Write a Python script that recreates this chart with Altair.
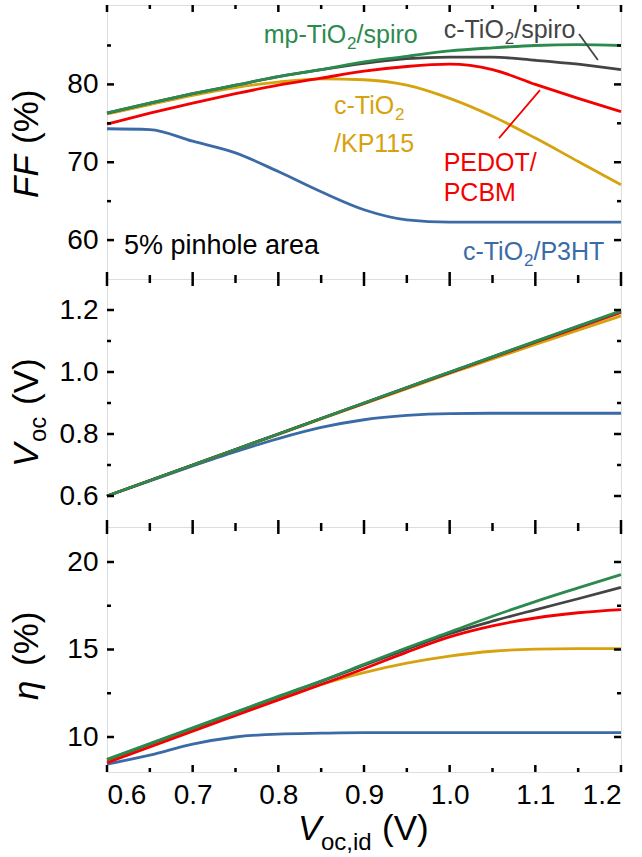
import altair as alt
import pandas as pd

# ---------------- data ----------------
x_vals = [0.60, 0.65, 0.70, 0.75, 0.80, 0.85, 0.90, 0.95, 1.00, 1.05, 1.10, 1.15, 1.20]

series_names = ["c-TiO2/P3HT", "c-TiO2/KP115", "PEDOT/PCBM", "c-TiO2/spiro", "mp-TiO2/spiro"]
series_colors = ["#3b6ba6", "#d6a20e", "#f50000", "#444444", "#2b8a4e"]

# FF (%)
ff_p3ht = [74.3, 74.2, 72.7, 71.2, 68.8, 66.2, 63.9, 62.6, 62.3, 62.3, 62.3, 62.3, 62.3]
ff_kp115 = [76.2, 77.4, 78.6, 79.6, 80.3, 80.7, 80.6, 79.9, 78.2, 75.9, 73.1, 70.1, 67.1]
ff_pedot = [74.9, 76.3, 77.6, 78.8, 79.9, 80.8, 81.7, 82.3, 82.6, 81.9, 80.0, 78.2, 76.5]
ff_cspiro = [76.3, 77.6, 78.8, 79.9, 81.0, 81.9, 82.7, 83.3, 83.5, 83.5, 83.1, 82.6, 81.9]
ff_mpspiro = [76.35, 77.6, 78.8, 79.9, 81.0, 81.9, 82.9, 83.6, 84.3, 84.7, 85.0, 85.1, 85.0]

# Voc (V)
voc_p3ht = [0.600, 0.649, 0.697, 0.743, 0.785, 0.821, 0.846, 0.860, 0.866, 0.867, 0.867, 0.867, 0.867]
voc_kp115 = [0.600, 0.650, 0.700, 0.750, 0.799, 0.849, 0.898, 0.946, 0.995, 1.042, 1.089, 1.135, 1.181]
voc_pedot = [0.600, 0.650, 0.700, 0.750, 0.800, 0.850, 0.899, 0.949, 0.998, 1.047, 1.096, 1.144, 1.192]
voc_cspiro = [0.600, 0.650, 0.700, 0.750, 0.800, 0.850, 0.900, 0.950, 0.999, 1.049, 1.098, 1.147, 1.196]
voc_mpspiro = [0.600, 0.650, 0.700, 0.750, 0.800, 0.850, 0.900, 0.950, 1.000, 1.049, 1.099, 1.148, 1.197]

# eta (%)
eta_p3ht = [8.45, 8.96, 9.59, 10.0, 10.17, 10.22, 10.25, 10.25, 10.25, 10.25, 10.25, 10.25, 10.25]
eta_kp115 = [8.6, 9.5, 10.4, 11.3, 12.15, 13.0, 13.68, 14.22, 14.62, 14.9, 15.02, 15.05, 15.05]
eta_pedot = [8.53, 9.43, 10.33, 11.23, 12.12, 13.0, 13.9, 14.85, 15.72, 16.35, 16.8, 17.1, 17.28]
eta_cspiro = [8.7, 9.6, 10.5, 11.4, 12.3, 13.18, 14.1, 15.02, 15.9, 16.62, 17.27, 17.9, 18.55]
eta_mpspiro = [8.72, 9.62, 10.52, 11.42, 12.32, 13.2, 14.15, 15.1, 16.0, 16.9, 17.74, 18.52, 19.28]

x_major = [0.6, 0.7, 0.8, 0.9, 1.0, 1.1, 1.2]
x_minor = [0.65, 0.75, 0.85, 0.95, 1.05, 1.15]
ff_major = [60, 70, 80]
ff_minor = [65, 75, 85]
voc_major = [0.6, 0.8, 1.0, 1.2]
voc_minor = [0.7, 0.9, 1.1]
eta_major = [10, 15, 20]
eta_minor = [12.5, 17.5]

# annotations (panel FF): text split as main part / subscript / rest; anchor in data units
ann_pre = ["mp-TiO", "c-TiO", "c-TiO", "/KP115", "PEDOT/", "PCBM", "c-TiO", "5% pinhole area"]
ann_sub = ["2", "2", "2", "", "", "", "2", ""]
ann_post = ["/spiro", "/spiro", "", "", "", "", "/P3HT", ""]
ann_x = [0.783, 0.993, 0.865, 0.865, 0.993, 0.993, 1.0155, 0.6198]
ann_y = [85.38, 85.96, 76.18, 71.29, 68.84, 64.98, 57.39, 58.16]
ann_color = ["#2b8a4e", "#444444", "#d6a20e", "#d6a20e", "#f50000", "#f50000", "#3b6ba6", "#000000"]
ann_size = [25, 25, 25, 25, 25, 25, 25, 27]

lead_x = [1.151, 1.0576]
lead_y = [86.47, 73.09]
lead_x2 = [1.173, 1.1054]
lead_y2 = [83.13, 79.27]
lead_color = ["#444444", "#f50000"]

# ---------------- chart ----------------
W = 514
FONT = "Liberation Sans"
TICK_W = 2.5
MAJ = 7
MIN = 4
LBL = 28
ANN_SIZE = 25
SUB_SIZE = 17
SUB_SHIFT = 6

# Arial / Liberation Sans advance widths (1/1000 em) for the characters used
ADV = {"c": 500, "-": 333, "T": 611, "i": 222, "O": 778, "m": 833, "p": 556, "2": 556}


def text_width(s, size):
    return sum(ADV.get(ch, 556) for ch in s) * size / 1000.0


def make_panel(vals, ydom, ymajor, yminor, H, yfmt, title_pieces, show_x, extra=None):
    xs = alt.Scale(domain=[0.6, 1.2], nice=False, zero=False)
    ys = alt.Scale(domain=ydom, nice=False, zero=False)
    if show_x:
        xaxis = alt.Axis(values=x_major, format=".1f", ticks=False, domain=False, grid=False,
                         labelFontSize=LBL, labelPadding=9, title=None, labelColor="black",
                         labelFont=FONT)
    else:
        xaxis = None
    yaxis = alt.Axis(values=ymajor, format=yfmt, ticks=False, domain=False, grid=False,
                     labelFontSize=LBL, labelPadding=9, title=None, labelColor="black",
                     labelFont=FONT)

    def X(field):
        return alt.X(field, scale=xs, axis=xaxis)

    def Y(field):
        return alt.Y(field, scale=ys, axis=yaxis)

    layers = []
    for name, color, v in zip(series_names, series_colors, vals):
        df = pd.DataFrame({"x": x_vals, "y": v, "s": name})
        layers.append(
            alt.Chart(df).mark_line(color=color, strokeWidth=2.8, interpolate="monotone").encode(
                x=X("x:Q"), y=Y("y:Q")
            )
        )
    # ticks (inside, all four sides)
    for tv, ln in ((ymajor, MAJ), (yminor, MIN)):
        d = pd.DataFrame({"y": tv})
        b = alt.Chart(d).mark_rule(color="black", strokeWidth=TICK_W)
        layers.append(b.encode(y=Y("y:Q"), x=alt.value(0), x2=alt.value(ln)))
        layers.append(b.encode(y=Y("y:Q"), x=alt.value(W - ln), x2=alt.value(W)))
    for tv, ln in ((x_major, MAJ), (x_minor, MIN)):
        d = pd.DataFrame({"x": tv})
        b = alt.Chart(d).mark_rule(color="black", strokeWidth=TICK_W)
        layers.append(b.encode(x=X("x:Q"), y=alt.value(0), y2=alt.value(ln)))
        layers.append(b.encode(x=X("x:Q"), y=alt.value(H - ln), y2=alt.value(H)))
    # axis title pieces
    for (txt, px, py, size, italic, angle) in title_pieces:
        d = pd.DataFrame({"t": [txt]})
        kw = dict(align="left", baseline="alphabetic", fontSize=size, font=FONT, color="black")
        if italic:
            kw["fontStyle"] = "italic"
        if angle:
            kw["angle"] = angle
        layers.append(alt.Chart(d).mark_text(**kw).encode(x=alt.value(px), y=alt.value(py), text="t:N"))
    if extra:
        layers.extend(extra(X, Y))
    return alt.layer(*layers).properties(width=W, height=H)


def ff_extra(X, Y):
    out = []
    ann = pd.DataFrame({"pre": ann_pre, "sub": ann_sub, "post": ann_post,
                        "x": ann_x, "y": ann_y, "c": ann_color, "fs": ann_size})
    # main text
    out.append(alt.Chart(ann).mark_text(align="left", baseline="alphabetic", font=FONT).encode(
        x=X("x:Q"), y=Y("y:Q"), text="pre:N", color=alt.Color("c:N", scale=None),
        size=alt.Size("fs:Q", scale=None)))
    # subscripts and following text, grouped by the width of the leading part
    for pre in sorted(set(p for p, s in zip(ann_pre, ann_sub) if s)):
        sel = ann[(ann["pre"] == pre) & (ann["sub"] != "")]
        w1 = text_width(pre, ANN_SIZE)
        out.append(alt.Chart(sel).mark_text(align="left", baseline="alphabetic", fontSize=SUB_SIZE,
                                            font=FONT, dx=w1, dy=SUB_SHIFT).encode(
            x=X("x:Q"), y=Y("y:Q"), text="sub:N", color=alt.Color("c:N", scale=None)))
        sel2 = sel[sel["post"] != ""]
        if len(sel2):
            w2 = w1 + text_width("2", SUB_SIZE)
            out.append(alt.Chart(sel2).mark_text(align="left", baseline="alphabetic", fontSize=ANN_SIZE,
                                                 font=FONT, dx=w2).encode(
                x=X("x:Q"), y=Y("y:Q"), text="post:N", color=alt.Color("c:N", scale=None)))
    ld = pd.DataFrame({"x": lead_x, "y": lead_y, "x2": lead_x2, "y2": lead_y2, "c": lead_color})
    out.append(alt.Chart(ld).mark_rule(strokeWidth=1.8).encode(
        x=X("x:Q"), y=Y("y:Q"), x2="x2:Q", y2="y2:Q", color=alt.Color("c:N", scale=None)))
    return out


p1 = make_panel([ff_p3ht, ff_kp115, ff_pedot, ff_cspiro, ff_mpspiro], [55, 90.2], ff_major, ff_minor,
                274, "d",
                [("FF", -69, 193, 35, True, 270), ("(%)", -69, 139, 35, False, 270)],
                False, ff_extra)
p2 = make_panel([voc_p3ht, voc_kp115, voc_pedot, voc_cspiro, voc_mpspiro], [0.5, 1.3], voc_major, voc_minor,
                248, ".1f",
                [("V", -69, 188, 35, True, 270), ("oc", -61, 163, 24, False, 270),
                 ("(V)", -69, 126, 35, False, 270)],
                False)
p3 = make_panel([eta_p3ht, eta_kp115, eta_pedot, eta_cspiro, eta_mpspiro], [8, 22], eta_major, eta_minor,
                245, "d",
                [("\u03b7", -69, 173, 35, True, 270), ("(%)", -69, 139, 35, False, 270),
                 ("V", 191, 313, 35, True, 0), ("oc,id", 214, 323, 24, False, 0),
                 ("(V)", 275, 313, 35, False, 0)],
                True)

chart = alt.VConcatChart(vconcat=[p1, p2, p3], spacing=0, bounds="flush").properties(
    padding={"left": 9, "top": 3, "right": 0, "bottom": 0}
).configure_view(stroke="black", strokeWidth=2.5).configure(font=FONT)

chart.save("out.html", embed_options={"renderer": "svg", "actions": False})
